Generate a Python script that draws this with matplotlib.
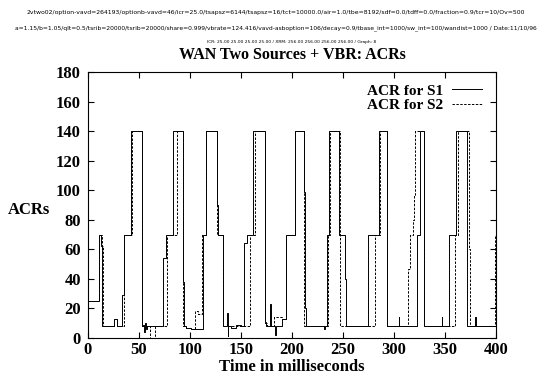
import matplotlib
matplotlib.use("Agg")
import matplotlib.pyplot as plt

# step traces: time in ms, ACR value (held until next time)
s1_t = [0, 11, 13, 14.4, 25.9, 28.8, 33.7, 35.6, 42.8, 53.3, 54, 55, 56, 57, 58, 60,
        73.9, 76.5, 83, 92.8, 94, 96, 101, 104.9, 112.8, 115.5, 126.8, 128, 132.5,
        136.6, 137, 137.5, 140, 145, 150, 152.9, 156.4, 162, 173.5, 175, 178.4, 179,
        183.6, 184.3, 190, 193.7, 203, 211.8, 212.5, 213.5, 231.4, 232, 234, 236.6,
        246.4, 252, 253, 274.8, 284.7, 292.8, 304.3, 305, 322, 325, 328.8, 346.7,
        347.3, 354.2, 360.8, 371.2, 379.4, 380, 400]
s1_v = [25, 70, 62, 8, 13, 8, 29, 70, 140, 8, 9, 4, 10, 6, 8, 8,
        54, 70, 140, 38, 8, 7, 6, 6, 70, 140, 90, 70, 8,
        17, 1, 8, 7, 8.5, 8, 64, 70, 140, 11, 8, 23, 8,
        2, 8, 13, 70, 140, 99, 20, 8, 6, 8, 70, 140,
        70, 40, 8, 70, 140, 8, 14, 8, 70, 140, 8, 14,
        8, 70, 140, 8, 14, 8, 8]

s2_t = [0, 11, 13.5, 14.6, 26, 28.8, 35.6, 43.3, 53.3, 61, 65.7, 77.8, 87.6, 93, 96,
        101, 104.9, 107.5, 112.3, 115.8, 126.8, 132.5, 158.8, 163.7, 173.5, 176, 182,
        190, 194, 203, 212, 235.6, 237, 246.8, 281.4, 286, 293.5, 314, 315.7, 318,
        319, 320.6, 329, 359.8, 363, 372.9, 374, 399, 400]
s2_v = [25, 70, 62, 8, 13, 8, 70, 140, 8, 0, 8, 70, 140, 8, 7,
        6, 18, 16, 70, 140, 70, 8, 70, 140, 10, 8, 14,
        13, 70, 140, 8, 70, 140, 8, 70, 140, 8, 47, 70, 80,
        97, 140, 8, 70, 140, 60, 8, 70, 70]

xticks = [0, 50, 100, 150, 200, 250, 300, 350, 400]
yticks = [0, 20, 40, 60, 80, 100, 120, 140, 160, 180]

header1 = ("2vtwo02/option-vavd=264193/optionb-vavd=46/icr=25.0/tsapsz=6144/tsapsz=16/"
           "tct=10000.0/air=1.0/tbe=8192/sdf=0.0/tdff=0.0/fraction=0.9/tcr=10/Ov=500")
header2 = ("a=1.15/b=1.05/qlt=0.5/tsrib=20000/tsrib=20000/share=0.999/vbrate=124.416/"
           "vavd-asboption=106/decay=0.9/tbase_int=1000/sw_int=100/wandist=1000 / Date:11/10/96")
header3 = "ICR: 25.00 25.00 25.00 25.00 / XRM: 256.00 256.00 256.00 256.00 / Graph: 8"

serif = ["Liberation Serif", "DejaVu Serif"]

fig = plt.figure(figsize=(5.52, 3.81), dpi=100)
ax = fig.add_axes([0.159, 0.113, 0.740, 0.698])

ax.plot(s1_t, s1_v, drawstyle="steps-post", color="black", lw=0.7, label="ACR for S1")
ax.plot(s2_t, s2_v, drawstyle="steps-post", color="black", lw=0.7,
        linestyle=(0, (2.5, 1.5)), label="ACR for S2")

ax.set_xlim(0, 400)
ax.set_ylim(0, 180)
ax.set_xticks(xticks)
ax.set_yticks(yticks)
ax.tick_params(direction="in", top=True, right=True, length=4, width=0.8, pad=3)
ax.tick_params(axis="y", pad=5)
for lab in ax.get_xticklabels() + ax.get_yticklabels():
    lab.set_fontfamily(serif)
    lab.set_fontweight("bold")
    lab.set_fontsize(12)
for sp in ax.spines.values():
    sp.set_linewidth(0.8)

leg = ax.legend(loc="upper right", frameon=False, markerfirst=False,
                prop={"family": serif, "weight": "bold", "size": 11},
                handlelength=2.0, handletextpad=0.55, labelspacing=0.05,
                borderaxespad=0, borderpad=0, bbox_to_anchor=(0.966, 0.955))

fig.text(0.529, 0.855, "WAN Two Sources + VBR: ACRs", ha="center", va="center",
         fontfamily=serif, fontweight="bold", fontsize=11.5)
fig.text(0.529, 0.036, "Time in milliseconds", ha="center", va="center",
         fontfamily=serif, fontweight="bold", fontsize=12)
fig.text(0.053, 0.449, "ACRs", ha="center", va="center",
         fontfamily=serif, fontweight="bold", fontsize=12)

fig.text(0.5, 0.968, header1, ha="center", va="center", fontsize=4.45)
fig.text(0.5, 0.926, header2, ha="center", va="center", fontsize=4.3)
fig.text(0.529, 0.889, header3, ha="center", va="center", fontsize=3.2)

fig.savefig("out.png", dpi=100)
